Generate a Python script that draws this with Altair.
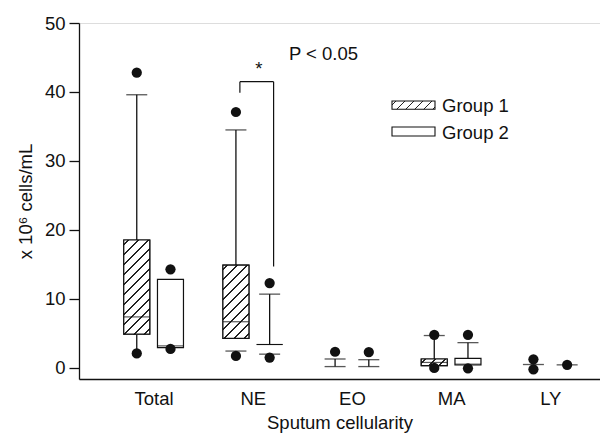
import json
import math
import altair as alt
import pandas as pd

# ---------------- data ----------------
categories = ["Total", "NE", "EO", "MA", "LY"]
groups = ["Group 1", "Group 2"]

# boxes: lower quartile, median, upper quartile
box_cat = ["Total", "Total", "NE", "NE", "MA", "MA"]
box_grp = ["Group 1", "Group 2", "Group 1", "Group 2", "Group 1", "Group 2"]
box_q1 = [4.9, 2.95, 4.3, 3.4, 0.33, 0.43]
box_med = [7.4, 3.2, 6.7, 3.4, 0.8, 0.55]
box_q3 = [18.55, 12.85, 14.9, 3.4, 1.3, 1.4]

# whisker lines
wh_cat = ["Total", "Total", "NE", "NE", "EO", "EO", "MA", "MA"]
wh_grp = ["Group 1", "Group 1", "Group 1", "Group 2", "Group 1", "Group 2", "Group 1", "Group 2"]
wh_from = [18.55, 4.9, 14.9, 3.4, 0.2, 0.2, 1.3, 1.4]
wh_to = [39.6, 2.4, 34.5, 10.7, 1.3, 1.2, 4.7, 3.67]

# whisker caps
cap_cat = ["Total", "NE", "NE", "NE", "NE", "EO", "EO", "EO", "EO", "MA", "MA", "LY", "LY"]
cap_grp = ["Group 1", "Group 1", "Group 1", "Group 2", "Group 2", "Group 1", "Group 1",
           "Group 2", "Group 2", "Group 1", "Group 2", "Group 1", "Group 2"]
cap_val = [39.6, 34.5, 2.45, 10.7, 2.0, 1.3, 0.2, 1.2, 0.2, 4.7, 3.67, 0.5, 0.45]

# outlying points
out_cat = ["Total", "Total", "Total", "Total", "NE", "NE", "NE", "NE", "EO", "EO",
           "MA", "MA", "MA", "MA", "LY", "LY", "LY"]
out_grp = ["Group 1", "Group 1", "Group 2", "Group 2", "Group 1", "Group 1", "Group 2", "Group 2",
           "Group 1", "Group 2", "Group 1", "Group 1", "Group 2", "Group 2", "Group 1", "Group 1",
           "Group 2"]
out_val = [42.8, 2.1, 14.3, 2.75, 37.1, 1.75, 12.3, 1.5, 2.35, 2.3, 4.8, 0.0, 4.8, -0.05,
           1.25, -0.2, 0.45]

# significance annotation (NE group 1 vs group 2)
sig_top = 41.5
sig_left_end = 39.9
sig_right_end = 14.7
sig_star = "*"
sig_text = "P < 0.05"

y_ticks = [0, 10, 20, 30, 40, 50]

# ---------------- layout / style ----------------
W, H = 521, 356
Y_MIN, Y_MAX = -1.6, 50
X_MIN, X_MAX = -0.702, 4.451
OFFSET = 0.17
BOX_PX = 26
CAP_PX = 21
FONT = "Liberation Sans"
FS = 18.5
INK = "#111111"
PPU = H / (Y_MAX - Y_MIN)


def xpos(cat, grp):
    return categories.index(cat) + (-OFFSET if grp == groups[0] else OFFSET)


box_df = pd.DataFrame({"cat": box_cat, "grp": box_grp, "q1": box_q1, "med": box_med, "q3": box_q3})
box_df["x"] = [xpos(c, g) for c, g in zip(box_cat, box_grp)]
wh_df = pd.DataFrame({"cat": wh_cat, "grp": wh_grp, "a": wh_from, "b": wh_to})
wh_df["x"] = [xpos(c, g) for c, g in zip(wh_cat, wh_grp)]
cap_df = pd.DataFrame({"cat": cap_cat, "grp": cap_grp, "v": cap_val})
cap_df["x"] = [xpos(c, g) for c, g in zip(cap_cat, cap_grp)]
out_df = pd.DataFrame({"cat": out_cat, "grp": out_grp, "v": out_val})
out_df["x"] = [xpos(c, g) for c, g in zip(out_cat, out_grp)]

ne = categories.index("NE")
xl = ne - OFFSET + 0.04
xr = ne + OFFSET + 0.04
br_df = pd.DataFrame({
    "x": [xl, xl, xr],
    "x2": [xr, xl, xr],
    "y": [sig_top, sig_top, sig_top],
    "y2": [sig_top, sig_left_end, sig_right_end],
})
star_df = pd.DataFrame({"x": [ne + 0.06], "y": [sig_top + 0.95], "t": [sig_star]})
p_df = pd.DataFrame({"x": [ne + 0.365], "y": [sig_top + 3.15], "t": [sig_text]})

x_scale = alt.Scale(domain=[X_MIN, X_MAX], nice=False, zero=False)
y_scale = alt.Scale(domain=[Y_MIN, Y_MAX], nice=False, zero=False)
label_expr = json.dumps(categories).replace('"', "'") + "[datum.value]"

x_axis = alt.Axis(values=[0, 1, 2, 3, 4], labelExpr=label_expr, ticks=False, tickSize=0,
                  grid=False, domainColor=INK, domainWidth=1.3, labelFont=FONT,
                  labelFontSize=FS, labelColor=INK, labelPadding=10,
                  title="Sputum cellularity", titleFont=FONT, titleFontSize=FS,
                  titleFontWeight="normal", titleColor=INK, titlePadding=6)
y_axis = alt.Axis(values=y_ticks, tickSize=10, tickWidth=1.3, tickColor=INK, grid=False,
                  domainColor=INK, domainWidth=1.3, labelFont=FONT, labelFontSize=FS,
                  labelColor=INK, labelPadding=4, title="x 10\u2076 cells/mL",
                  titleFont=FONT, titleFontSize=FS, titleFontWeight="normal",
                  titleColor=INK, titleX=-54, titleY=178, titleAngle=270,
                  titleAlign="center", titleBaseline="middle")


def X(field="x"):
    return alt.X(f"{field}:Q", scale=x_scale, axis=x_axis)


def Y(field):
    return alt.Y(f"{field}:Q", scale=y_scale, axis=y_axis)


def hatch(w, h, spacing=10.0, thick=1.1, color="#222222"):
    L = w + h
    c = L / (w * w + h * h)
    half = thick * math.sqrt(2) / 2 / L
    stops = [alt.GradientStop(offset=0, color="white")]
    p = spacing * 0.45
    while p < L:
        t = p / L
        a, b = max(t - half, 0), min(t + half, 1)
        stops += [alt.GradientStop(offset=a, color="white"),
                  alt.GradientStop(offset=a, color=color),
                  alt.GradientStop(offset=b, color=color),
                  alt.GradientStop(offset=b, color="white")]
        p += spacing
    stops.append(alt.GradientStop(offset=1, color="white"))
    return alt.LinearGradient(gradient="linear", stops=stops, x1=0, y1=0, x2=w * c, y2=h * c)


layers = []
layers.append(alt.Chart(wh_df).mark_rule(color=INK, strokeWidth=1.3).encode(
    x=X(), y=Y("a"), y2="b:Q"))
layers.append(alt.Chart(box_df).mark_bar(size=BOX_PX, fill="white", stroke=INK,
                                         strokeWidth=1.2).encode(x=X(), y=Y("q1"), y2="q3:Q"))
for i in range(len(box_df)):
    if box_grp[i] != groups[0]:
        continue
    hpx = (box_q3[i] - box_q1[i]) * PPU
    layers.append(alt.Chart(box_df.iloc[[i]]).mark_bar(
        size=BOX_PX, fill=hatch(BOX_PX, hpx), stroke=INK, strokeWidth=1.2
    ).encode(x=X(), y=Y("q1"), y2="q3:Q"))
layers.append(alt.Chart(box_df).mark_tick(orient="horizontal", size=BOX_PX, thickness=1.2,
                                          color=INK).encode(x=X(), y=Y("med")))
layers.append(alt.Chart(cap_df).mark_tick(orient="horizontal", size=CAP_PX, thickness=1.3,
                                          color=INK).encode(x=X(), y=Y("v")))
layers.append(alt.Chart(out_df).mark_point(filled=True, shape="circle", size=105, color=INK,
                                           opacity=1).encode(x=X(), y=Y("v")))
layers.append(alt.Chart(br_df).mark_rule(color=INK, strokeWidth=1.2).encode(
    x=X(), x2="x2:Q", y=Y("y"), y2="y2:Q"))
layers.append(alt.Chart(star_df).mark_text(font=FONT, fontSize=FS, color=INK, align="center",
                                           baseline="alphabetic").encode(
    x=X(), y=Y("y"), text="t:N"))
layers.append(alt.Chart(p_df).mark_text(font=FONT, fontSize=FS, color=INK, align="left",
                                        baseline="alphabetic").encode(
    x=X(), y=Y("y"), text="t:N"))

# legend
leg_df = pd.DataFrame({"label": groups})
sw_x, sw_x2 = 313, 356
sw_rows = [(78, 86.3), (104, 113)]
txt_y = [88.5, 116]
for k, g in enumerate(groups):
    fill = hatch(sw_x2 - sw_x, sw_rows[k][1] - sw_rows[k][0], spacing=9.0) if k == 0 else "white"
    layers.append(alt.Chart(leg_df.iloc[[k]]).mark_rect(fill=fill, stroke=INK, strokeWidth=1.1).encode(
        x=alt.value(sw_x), x2=alt.value(sw_x2), y=alt.value(sw_rows[k][0]),
        y2=alt.value(sw_rows[k][1])))
    layers.append(alt.Chart(leg_df.iloc[[k]]).mark_text(font=FONT, fontSize=FS, color=INK,
                                                        align="left", baseline="alphabetic").encode(
        x=alt.value(363), y=alt.value(txt_y[k]), text="label:N"))

chart = alt.layer(*layers).properties(
    width=W, height=H,
    autosize=alt.AutoSizeParams(type="none"),
    padding={"left": 71, "top": 15, "right": 0, "bottom": 57},
).configure_view(stroke=None).configure(font=FONT, background="white")

chart.save("out.html", embed_options={"renderer": "svg", "actions": False})
